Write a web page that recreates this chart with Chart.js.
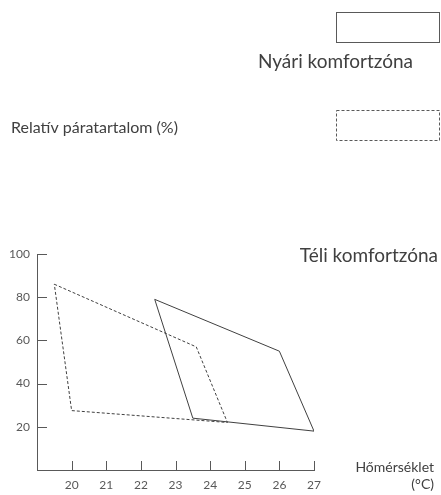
<!DOCTYPE html>
<html>
<head>
<meta charset="utf-8">
<script src="https://cdn.jsdelivr.net/npm/chart.js@4.4.0/dist/chart.umd.min.js"></script>
<style>
  html, body { margin: 0; padding: 0; background: #ffffff; }
  canvas { display: block; }
</style>
</head>
<body>
<canvas id="comfortChart" width="441" height="495"></canvas>
<script>
// Komfortzónák (hőmérséklet °C, relatív páratartalom %)
var seriesLabels = ["Nyári komfortzóna", "Téli komfortzóna"];
var summerTemp = [22.4, 26.0, 27.0, 23.5, 22.4];
var summerHum = [79, 55, 18, 24, 79];
var winterTemp = [19.5, 23.6, 24.5, 20.0, 19.5];
var winterHum = [86, 57, 22, 27.5, 86];
var xTicks = [20, 21, 22, 23, 24, 25, 26, 27];
var yTicks = [20, 40, 60, 80, 100];
var xTitle = ["Hőmérséklet", "(°C)"];
var yTitle = "Relatív páratartalom (%)";

var FONT = "Lato, 'Open Sans', sans-serif";
var lineColor = "#404040";
var textColor = "#404040";
var tickColor = "#595959";

function toPoints(xs, ys) {
  return xs.map(function (x, i) {
    return { x: x, y: ys[i] };
  });
}

// Befelé mutató osztásjelek, feliratok és egyedi jelmagyarázat
var decorPlugin = {
  id: "decor",
  afterDraw: function (chart) {
    var ctx = chart.ctx;
    var xs = chart.scales.x;
    var ys = chart.scales.y;
    var area = chart.chartArea;
    ctx.save();
    ctx.strokeStyle = "#595959";
    ctx.lineWidth = 1;
    ctx.beginPath();
    xTicks.forEach(function (v) {
      var px = Math.round(xs.getPixelForValue(v)) + 0.5;
      ctx.moveTo(px, area.bottom);
      ctx.lineTo(px, area.bottom - 9);
    });
    yTicks.forEach(function (v) {
      var py = Math.round(ys.getPixelForValue(v)) + 0.5;
      ctx.moveTo(area.left, py);
      ctx.lineTo(area.left + 10, py);
    });
    ctx.stroke();

    // jelmagyarázat dobozok
    ctx.strokeStyle = "#595959";
    ctx.strokeRect(336.5, 12.5, 103, 30);
    ctx.setLineDash([3, 2]);
    ctx.strokeRect(336.5, 110.5, 103, 30);
    ctx.setLineDash([]);

    ctx.fillStyle = textColor;
    ctx.textBaseline = "middle";
    ctx.font = "19px " + FONT;
    ctx.textAlign = "right";
    ctx.fillText(chart.data.datasets[0].label, 413, 62);
    ctx.fillText(chart.data.datasets[1].label, 438, 256);

    ctx.font = "16px " + FONT;
    ctx.textAlign = "left";
    ctx.fillText(yTitle, 11, 128);
    ctx.font = "14px " + FONT;
    ctx.textAlign = "right";
    ctx.fillText(xTitle[0], 434, 467);
    ctx.fillText(xTitle[1], 434, 484);
    ctx.restore();
  }
};

var ctx = document.getElementById("comfortChart");
var chart = new Chart(ctx, {
  type: "scatter",
  data: {
    datasets: [
      {
        label: seriesLabels[0],
        data: toPoints(summerTemp, summerHum),
        showLine: true,
        borderColor: lineColor,
        borderWidth: 1,
        pointRadius: 0,
        tension: 0,
        fill: false
      },
      {
        label: seriesLabels[1],
        data: toPoints(winterTemp, winterHum),
        showLine: true,
        borderColor: lineColor,
        borderWidth: 1,
        borderDash: [3, 2],
        pointRadius: 0,
        tension: 0,
        fill: false
      }
    ]
  },
  options: {
    responsive: false,
    animation: false,
    layout: {
      padding: { top: 254, right: 127, left: 0, bottom: 0 }
    },
    plugins: {
      legend: { display: false },
      tooltip: { enabled: false }
    },
    scales: {
      x: {
        type: "linear",
        min: 19,
        max: 27,
        afterFit: function (scale) { scale.height = 25; },
        afterBuildTicks: function (scale) {
          scale.ticks = xTicks.map(function (v) { return { value: v }; });
        },
        grid: { display: false, drawTicks: false },
        border: { display: true, color: "#595959", width: 1 },
        ticks: {
          padding: 8,
          color: tickColor,
          font: { size: 12, family: FONT },
          maxRotation: 0
        }
      },
      y: {
        type: "linear",
        min: 0,
        max: 100,
        afterFit: function (scale) { scale.width = 37; },
        afterBuildTicks: function (scale) {
          scale.ticks = yTicks.map(function (v) { return { value: v }; });
        },
        grid: { display: false, drawTicks: false },
        border: { display: true, color: "#595959", width: 1 },
        ticks: {
          padding: 7,
          color: tickColor,
          font: { size: 12, family: FONT }
        }
      }
    }
  },
  plugins: [decorPlugin]
});
</script>
</body>
</html>
